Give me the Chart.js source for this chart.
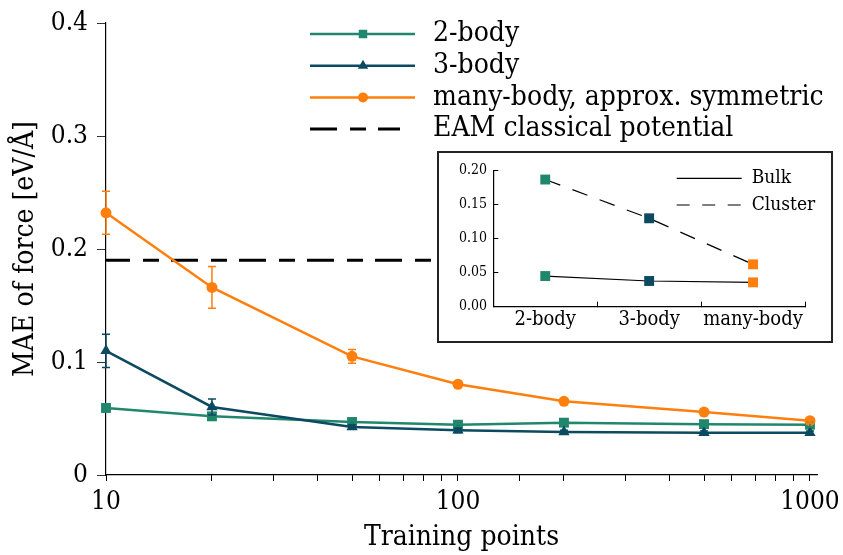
<!DOCTYPE html>
<html>
<head>
<meta charset="utf-8">
<script src="https://cdn.jsdelivr.net/npm/chart.js@4.4.1/dist/chart.umd.min.js"></script>
<style>
  html, body { margin: 0; padding: 0; background: #fff; }
  #wrap { position: relative; width: 843px; height: 555px; overflow: hidden; background: #fff; }
  #main { position: absolute; left: 0; top: 0; }
  #insetBox { position: absolute; left: 437px; top: 151px; width: 396px; height: 192px;
              border: 2px solid #222; box-sizing: border-box; background: #fff; }
  #inset { position: absolute; left: 0; top: 0; }
</style>
</head>
<body>
<div id="wrap">
  <canvas id="main" width="843" height="555"></canvas>
  <div id="insetBox"><canvas id="inset" width="392" height="188"></canvas></div>
</div>
<script>
// ---- data ----
const trainingPoints = [10, 20, 50, 100, 200, 500, 1000];
const maeTwoBody     = [0.0593, 0.0519, 0.0469, 0.0445, 0.0463, 0.0450, 0.0445];
const errTwoBody     = [0.003, 0.003, 0.002, 0.002, 0.002, 0.002, 0.002];
const maeThreeBody   = [0.1099, 0.0602, 0.0424, 0.0395, 0.0380, 0.0374, 0.0374];
const errThreeBody   = [0.0147, 0.007, 0.002, 0.002, 0.0015, 0.0015, 0.0015];
const maeManyBody    = [0.232, 0.166, 0.105, 0.0803, 0.0652, 0.0557, 0.0481];
const errManyBody    = [0.019, 0.0185, 0.006, 0.0025, 0.002, 0.003, 0.002];
const eamForceMAE    = 0.19;
const xTickLabels    = [10, 100, 1000];
const yTickValues    = [0, 0.1, 0.2, 0.3, 0.4];

const insetCategories = ['2-body', '3-body', 'many-body'];
const insetBulk       = [0.0451, 0.0378, 0.0358];
const insetCluster    = [0.187, 0.130, 0.0623];
const insetTickValues = [0, 0.05, 0.10, 0.15, 0.20];

// ---- styling ----
const FONT = '"DejaVu Serif Condensed", "DejaVu Serif", serif';
const GREEN = '#21876c';
const NAVY = '#0b4a60';
const ORANGE = '#ff7f0e';
const X_MIN = 10, X_MAX = 1047;
const EAM_DASH = [27, 13, 16, 12];

Chart.defaults.font.family = FONT;
Chart.defaults.color = '#000';

const toPoints = (ys) => trainingPoints.map((x, i) => ({ x, y: ys[i] }));

// vertical error bars with caps, drawn from each dataset's `errors` array
const errorBars = {
  id: 'errorBars',
  afterDatasetsDraw(chart) {
    const { ctx, scales: { x, y } } = chart;
    chart.data.datasets.forEach((ds) => {
      if (!ds.errors) return;
      ctx.save();
      ctx.strokeStyle = ds.borderColor;
      ctx.lineWidth = 1.5;
      ds.data.forEach((p, i) => {
        const e = ds.errors[i];
        const px = x.getPixelForValue(p.x);
        const yTop = y.getPixelForValue(p.y + e);
        const yBot = y.getPixelForValue(p.y - e);
        ctx.beginPath();
        ctx.moveTo(px, yTop); ctx.lineTo(px, yBot);
        ctx.moveTo(px - 4, yTop); ctx.lineTo(px + 4, yTop);
        ctx.moveTo(px - 4, yBot); ctx.lineTo(px + 4, yBot);
        ctx.stroke();
      });
      ctx.restore();
    });
  }
};

// legend: line sample with a marker, then the label
const mainLegend = {
  id: 'mainLegend',
  afterDraw(chart) {
    const ctx = chart.ctx;
    const rows = chart.data.datasets.slice().sort((a, b) => a.legendRank - b.legendRank);
    ctx.save();
    rows.forEach((ds, i) => {
      const yy = 34 + i * 31.7;
      ctx.strokeStyle = ds.borderColor;
      ctx.lineWidth = ds.borderWidth;
      ctx.setLineDash(ds.borderDash || []);
      ctx.beginPath();
      ctx.moveTo(310, yy);
      ctx.lineTo(ds.borderDash ? 400 : 415, yy);
      ctx.stroke();
      ctx.setLineDash([]);
      if (ds.pointRadius > 0) {
        ctx.fillStyle = ds.borderColor;
        Chart.helpers.drawPoint(ctx, { pointStyle: ds.pointStyle, radius: ds.legendRadius, borderWidth: 0, rotation: 0 }, 363, yy);
      }
      ctx.fillStyle = '#000';
      ctx.font = '28px ' + FONT;
      ctx.textBaseline = 'middle';
      ctx.textAlign = 'left';
      ctx.fillText(ds.label, 433, yy);
    });
    ctx.restore();
  }
};

new Chart(document.getElementById('main'), {
  type: 'line',
  data: {
    datasets: [
      { label: '2-body', data: toPoints(maeTwoBody), errors: errTwoBody, borderColor: GREEN, backgroundColor: GREEN,
        borderWidth: 2.5, pointStyle: 'rect', pointRadius: 7, legendRadius: 6, pointBorderWidth: 0, order: 3, legendRank: 0, clip: false },
      { label: '3-body', data: toPoints(maeThreeBody), errors: errThreeBody, borderColor: NAVY, backgroundColor: NAVY,
        borderWidth: 2.5, pointStyle: 'triangle', pointRadius: 6.5, legendRadius: 6, pointBorderWidth: 0, order: 2, legendRank: 1, clip: false },
      { label: 'many-body, approx. symmetric', data: toPoints(maeManyBody), errors: errManyBody, borderColor: ORANGE, backgroundColor: ORANGE,
        borderWidth: 2.5, pointStyle: 'circle', pointRadius: 5.5, legendRadius: 5, pointBorderWidth: 0, order: 1, legendRank: 2, clip: false },
      { label: 'EAM classical potential', data: [{ x: X_MIN, y: eamForceMAE }, { x: X_MAX, y: eamForceMAE }],
        borderColor: '#000', borderWidth: 3, borderDash: EAM_DASH, borderDashOffset: 3,
        pointRadius: 0, order: 4, legendRank: 3, clip: false }
    ]
  },
  options: {
    responsive: false,
    animation: false,
    devicePixelRatio: 1,
    events: [],
    layout: { padding: { top: 23, right: 26, left: 0, bottom: 0 } },
    plugins: { legend: { display: false }, tooltip: { enabled: false } },
    scales: {
      x: {
        type: 'logarithmic', min: X_MIN, max: X_MAX,
        afterBuildTicks(scale) { scale.ticks = scale.ticks.filter(t => t.value <= 1000); },
        afterFit(scale) { scale.height = 80; scale.paddingLeft = 0; scale.paddingRight = 0; },
        ticks: {
          autoSkip: false, maxRotation: 0, padding: 6,
          font: { size: 26 },
          callback: (v) => (xTickLabels.some(t => Math.abs(t - v) < 1e-6) ? String(Math.round(v)) : '')
        },
        grid: { drawOnChartArea: false, drawTicks: true, tickLength: 6, color: '#000', lineWidth: 1 },
        border: { color: '#000', width: 1.2 },
        title: { display: true, text: 'Training points', font: { size: 28 }, padding: { top: 0, bottom: 0 } }
      },
      y: {
        type: 'linear', min: 0, max: 0.4,
        afterBuildTicks(scale) { scale.ticks = yTickValues.map(v => ({ value: v })); },
        afterFit(scale) { scale.width = 106; scale.paddingTop = 0; scale.paddingBottom = 0; },
        ticks: {
          padding: 9, font: { size: 26 },
          callback: (v) => (v === 0 ? '0' : v.toFixed(1))
        },
        grid: { drawOnChartArea: false, drawTicks: true, tickLength: 9, color: '#333', lineWidth: 1 },
        border: { color: '#000', width: 1.2 },
        title: { display: true, text: 'MAE of force [eV/Å]', font: { size: 28 }, padding: { top: 9, bottom: 0 } }
      }
    }
  },
  plugins: [errorBars, mainLegend]
});

// ---- inset: bulk vs cluster errors per model ----
const insetMarkerColors = [GREEN, NAVY, ORANGE];

const insetLegend = {
  id: 'insetLegend',
  afterDraw(chart) {
    const ctx = chart.ctx;
    ctx.save();
    chart.data.datasets.forEach((ds, i) => {
      const yy = 25.3 + i * 26.7;
      ctx.strokeStyle = '#000';
      ctx.lineWidth = 1.2;
      ctx.setLineDash(ds.borderDash ? [13, 12.5] : []);
      ctx.beginPath();
      ctx.moveTo(237.7, yy);
      ctx.lineTo(302.7, yy);
      ctx.stroke();
      ctx.setLineDash([]);
      ctx.fillStyle = '#000';
      ctx.font = '19px ' + FONT;
      ctx.textBaseline = 'middle';
      ctx.textAlign = 'left';
      ctx.fillText(ds.label, 312.7, yy);
    });
    ctx.restore();
  }
};

new Chart(document.getElementById('inset'), {
  type: 'line',
  data: {
    labels: insetCategories,
    datasets: [
      { label: 'Bulk', data: insetBulk, borderColor: '#000', borderWidth: 1.2,
        pointStyle: 'rect', pointRadius: 7, pointBackgroundColor: insetMarkerColors, pointBorderWidth: 0, clip: false },
      { label: 'Cluster', data: insetCluster, borderColor: '#000', borderWidth: 1.2, borderDash: [16, 13],
        pointStyle: 'rect', pointRadius: 7, pointBackgroundColor: insetMarkerColors, pointBorderWidth: 0, clip: false }
    ]
  },
  options: {
    responsive: false,
    animation: false,
    devicePixelRatio: 1,
    events: [],
    layout: { padding: { top: 17.7, right: 26, left: 0, bottom: 0 } },
    plugins: { legend: { display: false }, tooltip: { enabled: false } },
    scales: {
      x: {
        type: 'category', offset: true,
        afterFit(scale) { scale.height = 34.3; scale.paddingLeft = 0; scale.paddingRight = 0; },
        ticks: { padding: 6.3, font: { size: 20 }, maxRotation: 0, autoSkip: false },
        grid: { offset: true, drawOnChartArea: false, drawTicks: true, tickLength: -5, color: '#000', lineWidth: 1 },
        border: { color: '#000', width: 1.2 }
      },
      y: {
        type: 'linear', min: 0, max: 0.2,
        afterBuildTicks(scale) { scale.ticks = insetTickValues.map(v => ({ value: v })); },
        afterFit(scale) { scale.width = 54.3; scale.paddingTop = 0; scale.paddingBottom = 0; },
        ticks: { padding: 11.3, font: { size: 14 }, callback: (v) => v.toFixed(2) },
        grid: { drawOnChartArea: false, drawTicks: true, tickLength: -5, color: '#000', lineWidth: 1 },
        border: { color: '#000', width: 1.2 }
      }
    }
  },
  plugins: [insetLegend]
});
</script>
</body>
</html>
